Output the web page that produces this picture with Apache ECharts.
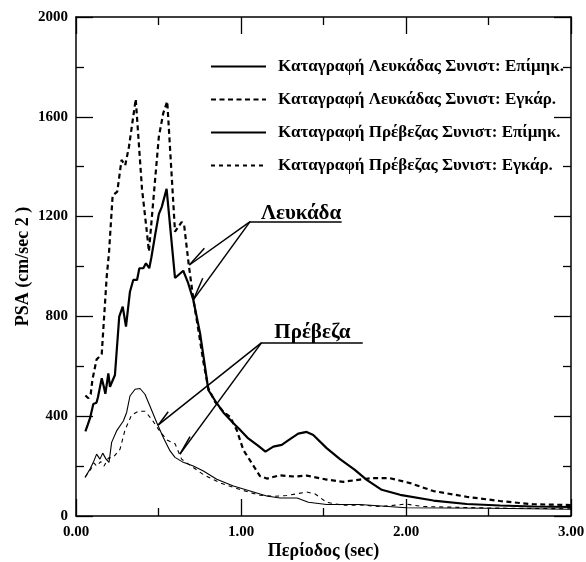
<!DOCTYPE html>
<html>
<head>
<meta charset="utf-8">
<script src="https://cdn.jsdelivr.net/npm/echarts@6/dist/echarts.min.js"></script>
<style>
  html, body { margin: 0; padding: 0; background: #fff; }
  #chart { width: 586px; height: 562px; }
</style>
</head>
<body>
<div id="chart"></div>
<script>
// Περίοδος (sec), PSA (cm/sec^2)
const lefkadaLong = [
  [0.057,339],[0.072,367],[0.085,392],[0.095,395],[0.105,449],[0.124,454],[0.133,476],
  [0.156,552],[0.168,520],[0.178,490],[0.196,572],[0.206,518],[0.236,565],[0.262,799],
  [0.283,839],[0.303,759],[0.327,899],[0.347,946],[0.370,946],[0.384,993],[0.408,993],
  [0.424,1013],[0.444,993],[0.457,1037],[0.479,1124],[0.502,1210],[0.520,1239],[0.549,1311],
  [0.600,954],[0.650,983],[0.680,933],[0.711,866],[0.752,732],[0.782,598],[0.802,505],
  [0.853,452],[0.893,415],[0.954,372],[0.988,350],[1.044,311],[1.105,281],[1.148,258],
  [1.196,278],[1.247,285],[1.297,308],[1.347,330],[1.398,337],[1.438,325],[1.519,272],
  [1.600,228],[1.690,185],[1.762,145],[1.853,105],[1.964,85],[2.166,62],[2.368,48],
  [2.570,42],[2.770,38],[3.000,36]
];
const lefkadaTrans = [
  [0.057,483],[0.075,472],[0.089,488],[0.100,548],[0.125,628],[0.145,640],[0.156,650],
  [0.186,958],[0.200,1055],[0.222,1284],[0.250,1300],[0.276,1427],[0.298,1405],[0.321,1480],
  [0.362,1671],[0.400,1311],[0.427,1153],[0.442,1060],[0.469,1268],[0.502,1520],[0.529,1615],
  [0.553,1662],[0.600,1140],[0.640,1178],[0.655,1168],[0.683,1009],[0.711,870],[0.741,748],
  [0.772,618],[0.802,512],[0.842,458],[0.893,418],[0.933,398],[0.974,345],[1.014,265],
  [1.065,212],[1.115,160],[1.156,150],[1.236,163],[1.327,158],[1.398,162],[1.519,146],
  [1.620,137],[1.720,146],[1.800,152],[1.900,152],[2.024,132],[2.166,100],[2.368,77],
  [2.570,60],[2.770,47],[3.000,44]
];
const prevezaLong = [
  [0.055,155],[0.085,188],[0.105,215],[0.125,248],[0.145,228],[0.162,252],[0.182,228],
  [0.200,215],[0.216,295],[0.246,341],[0.287,381],[0.307,415],[0.327,481],[0.358,508],
  [0.388,511],[0.418,488],[0.448,441],[0.489,375],[0.529,315],[0.570,261],[0.600,235],
  [0.650,215],[0.711,200],[0.772,180],[0.853,147],[0.954,120],[1.055,100],[1.156,80],
  [1.236,72],[1.340,72],[1.408,55],[1.519,46],[1.720,46],[2.000,33],[2.500,31],[3.000,27]
];
const prevezaTrans = [
  [0.055,155],[0.090,188],[0.110,212],[0.125,200],[0.150,218],[0.170,200],[0.196,232],
  [0.226,235],[0.267,268],[0.297,345],[0.337,405],[0.378,420],[0.418,420],[0.459,388],
  [0.499,348],[0.550,305],[0.600,290],[0.640,228],[0.690,204],[0.772,166],[0.873,133],
  [0.994,106],[1.115,83],[1.196,79],[1.277,82],[1.398,96],[1.450,88],[1.519,55],
  [1.620,43],[1.720,44],[1.850,38],[2.000,48],[2.100,38],[2.500,32],[3.000,29]
];

const seriesNames = [
  'Καταγραφή Λευκάδας Συνιστ: Επίμηκ.',
  'Καταγραφή Λευκάδας Συνιστ: Εγκάρ.',
  'Καταγραφή Πρέβεζας Συνιστ: Επίμηκ.',
  'Καταγραφή Πρέβεζας Συνιστ: Εγκάρ.'
];

// pointer lines for the two place labels, in data coordinates
const pointerSegments = [
  [[1.055,1180],[1.610,1180]],
  [[1.055,1180],[0.687,1006]],
  [[1.055,1180],[0.711,866]],
  [[0.687,1006],[0.778,1073]],
  [[0.711,866],[0.768,953]],
  [[1.125,695],[1.738,695]],
  [[1.125,695],[0.499,365]],
  [[1.125,695],[0.630,248]],
  [[0.499,365],[0.559,418]],
  [[0.630,248],[0.691,318]]
];
const placeLabels = [
  { name: 'Λευκάδα', coord: [1.364,1212] },
  { name: 'Πρέβεζα', coord: [1.433,735] }
];

const FONT = 'Liberation Serif';
const chart = echarts.init(document.getElementById('chart'));

const tickCfg = { show: true, inside: true, length: 17, lineStyle: { color: '#000', width: 1.3 } };
const minorCfg = { show: true, splitNumber: 2, length: 8, lineStyle: { color: '#000', width: 1.3 } };
const lineCfg = { show: true, onZero: false, lineStyle: { color: '#000', width: 1.5 } };
const labelCfg = { color: '#000', fontFamily: FONT, fontWeight: 'bold', fontSize: 15 };
const nameCfg = { color: '#000', fontFamily: FONT, fontWeight: 'bold', fontSize: 18 };

function curve(name, data, width, dash) {
  return {
    name: name,
    type: 'line',
    data: data,
    symbol: 'none',
    showSymbol: false,
    animation: false,
    lineStyle: { color: '#000', width: width, type: dash || 'solid' },
    itemStyle: { color: '#000' }
  };
}

chart.setOption({
  backgroundColor: '#fff',
  animation: false,
  grid: { left: 76, right: 15, top: 17, bottom: 46, containLabel: false, outerBoundsMode: 'none' },
  legend: {
    data: seriesNames,
    orient: 'vertical',
    left: 205,
    top: 53,
    itemWidth: 55,
    itemHeight: 14,
    itemGap: 16,
    itemStyle: { color: 'rgba(0,0,0,0)', borderColor: 'rgba(0,0,0,0)', borderWidth: 0 },
    textStyle: { color: '#000', fontFamily: FONT, fontWeight: 'bold', fontSize: 17, padding: [0, 0, 0, 7] }
  },
  xAxis: [
    {
      type: 'value', position: 'bottom', min: 0, max: 3, interval: 1,
      axisLine: lineCfg, axisTick: tickCfg, minorTick: minorCfg,
      splitLine: { show: false },
      axisLabel: Object.assign({ margin: 9, formatter: v => v.toFixed(2) }, labelCfg),
      name: 'Περίοδος (sec)', nameLocation: 'middle', nameGap: 26, nameMoveOverlap: false,
      nameTextStyle: nameCfg
    },
    {
      type: 'value', position: 'top', min: 0, max: 3, interval: 1,
      axisLine: lineCfg, axisTick: tickCfg, minorTick: minorCfg,
      splitLine: { show: false }, axisLabel: { show: false }
    }
  ],
  yAxis: [
    {
      type: 'value', position: 'left', min: 0, max: 2000, interval: 400,
      axisLine: lineCfg, axisTick: tickCfg, minorTick: minorCfg,
      splitLine: { show: false },
      axisLabel: Object.assign({ margin: 8, formatter: v => String(v) }, labelCfg),
      name: 'PSA (cm/sec 2 )', nameLocation: 'middle', nameGap: 44, nameMoveOverlap: false,
      nameTextStyle: nameCfg
    },
    {
      type: 'value', position: 'right', min: 0, max: 2000, interval: 400,
      axisLine: lineCfg, axisTick: tickCfg, minorTick: minorCfg,
      splitLine: { show: false }, axisLabel: { show: false }
    }
  ],
  series: [
    curve(seriesNames[0], lefkadaLong, 2.2),
    curve(seriesNames[1], lefkadaTrans, 2.2, [5, 3.5]),
    curve(seriesNames[2], prevezaLong, 1.1),
    curve(seriesNames[3], prevezaTrans, 1.1, [4, 4]),
    {
      name: 'pointers',
      type: 'line',
      data: [],
      animation: false,
      markLine: {
        silent: true,
        animation: false,
        symbol: ['none', 'none'],
        label: { show: false },
        lineStyle: { color: '#000', width: 1.5, type: 'solid' },
        data: pointerSegments.map(s => [{ coord: s[0] }, { coord: s[1] }])
      },
      markPoint: {
        silent: true,
        animation: false,
        symbol: 'circle',
        symbolSize: 0,
        itemStyle: { color: '#000' },
        label: {
          show: true, position: 'inside', formatter: '{b}',
          color: '#000', fontFamily: FONT, fontWeight: 'bold', fontSize: 21,
          textBorderWidth: 0
        },
        data: placeLabels
      }
    }
  ]
});
</script>
</body>
</html>
